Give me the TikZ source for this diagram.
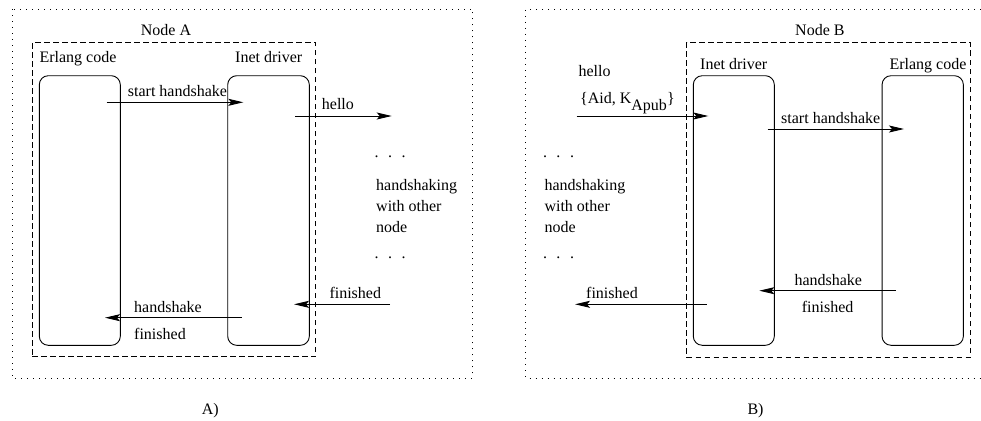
\documentclass[tikz,border=0pt]{standalone}
\usepackage{fontspec}
\setmainfont{Liberation Serif}
\usetikzlibrary{arrows.meta}

\tikzset{
  hostframe/.style={line width=1pt, dash pattern=on 1pt off 5pt},
  nodeframe/.style={draw, line width=0.9pt, dash pattern=on 5.5pt off 3.5pt, inner sep=0pt},
  proc/.style={draw, line width=0.9pt, rounded corners=9pt, inner sep=0pt,
               minimum width=81pt, minimum height=269.6pt},
  lbl/.style={anchor=base west, inner sep=0pt},
  msg/.style={line width=0.9pt, -{Stealth[length=15pt,width=7pt,inset=3pt]}}
}

\begin{document}
\begin{tikzpicture}[x=1pt, y=-1pt, font=\fontsize{16}{19}\selectfont]
\useasboundingbox (0,0) rectangle (981,420);

% ---------------- A) : initiating node ----------------
\draw[hostframe] (12,9.3) rectangle (472.7,378);
\node[nodeframe, minimum width=283.4pt, minimum height=314.4pt] (nodeA) at (174,199.5) {};
\node[lbl] (nodeAlbl) at (140.7,35.7) {Node A};

\node[proc] (erlA)  at (79.8,210.5) {};
\node[proc, minimum width=81.6pt] (inetA) at (268.5,210.5) {};
\node[lbl] (erlAlbl)  at (39.3,62.7) {Erlang code};
\node[lbl] (inetAlbl) at (235,62.7) {Inet driver};

\coordinate (a1s) at (106.7,102.3);  \coordinate (a1e) at (243.3,102.3);
\coordinate (a2s) at (295.3,116);    \coordinate (a2e) at (391.7,116);
\coordinate (a3s) at (390,304.3);    \coordinate (a3e) at (294,304.3);
\coordinate (a4s) at (241.7,317.7);  \coordinate (a4e) at (105,317.7);
\draw[msg] (a1s) -- (a1e);
\draw[msg] (a2s) -- (a2e);
\draw[msg] (a3s) -- (a3e);
\draw[msg] (a4s) -- (a4e);

\node[lbl] (a1lbl) at (127.7,96) {start handshake};
\node[lbl] (a2lbl) at (321.7,109.3) {hello};
\node[lbl] (a3lbl) at (329.3,298.3) {finished};
\node[lbl] (a4lbl) at (134,312.3) {handshake};
\node[lbl] (a4lblb) at (134,339.3) {finished};

\node[lbl] (adots1) at (374.5,157) {.\hspace{9.5pt}.\hspace{9.5pt}.};
\node[lbl] (ahs1) at (376,190.5) {handshaking};
\node[lbl] (ahs2) at (376,211.5) {with other};
\node[lbl] (ahs3) at (376,232.3) {node};
\node[lbl] (adots2) at (374.5,258) {.\hspace{9.5pt}.\hspace{9.5pt}.};

\node[lbl] (capA) at (201.7,414.5) {A)};

% ---------------- B) : accepting node ----------------
\draw[hostframe] (981,9.3) -- (525.7,9.3) -- (525.7,378) -- (981,378);
\node[nodeframe, minimum width=283.3pt, minimum height=315.4pt] (nodeB) at (828.35,200) {};
\node[lbl] (nodeBlbl) at (795,35.7) {Node B};

\node[proc] (inetB) at (733.8,210.5) {};
\node[proc, minimum width=81.3pt] (erlB) at (922.7,210.5) {};
\node[lbl] (inetBlbl) at (700,70) {Inet driver};
\node[lbl] (erlBlbl)  at (889.3,70) {Erlang code};

\coordinate (b1s) at (576.7,116);    \coordinate (b1e) at (708.3,116);
\coordinate (b2s) at (767.7,129);    \coordinate (b2e) at (904,129);
\coordinate (b3s) at (895.7,290.7);  \coordinate (b3e) at (759.3,290.7);
\coordinate (b4s) at (706.7,304.3);  \coordinate (b4e) at (575,304.3);
\draw[msg] (b1s) -- (b1e);
\draw[msg] (b2s) -- (b2e);
\draw[msg] (b3s) -- (b3e);
\draw[msg] (b4s) -- (b4e);

\node[lbl] (b1lbl)  at (578.3,76) {hello};
\node[lbl] (b1lblb) at (580,103) {\{Aid, K\raisebox{-7.5pt}{Apub}\}};
\node[lbl] (b2lbl)  at (781,123.3) {start handshake};
\node[lbl] (b3lbl)  at (794.3,285) {handshake};
\node[lbl] (b3lblb) at (801.7,312.3) {finished};
\node[lbl] (b4lbl)  at (586,298.3) {finished};

\node[lbl] (bdots1) at (542.8,157) {.\hspace{9.5pt}.\hspace{9.5pt}.};
\node[lbl] (bhs1) at (544.3,190.5) {handshaking};
\node[lbl] (bhs2) at (544.3,211.5) {with other};
\node[lbl] (bhs3) at (544.3,232.3) {node};
\node[lbl] (bdots2) at (542.8,258) {.\hspace{9.5pt}.\hspace{9.5pt}.};

\node[lbl] (capB) at (747.3,414) {B)};
\end{tikzpicture}
\end{document}
